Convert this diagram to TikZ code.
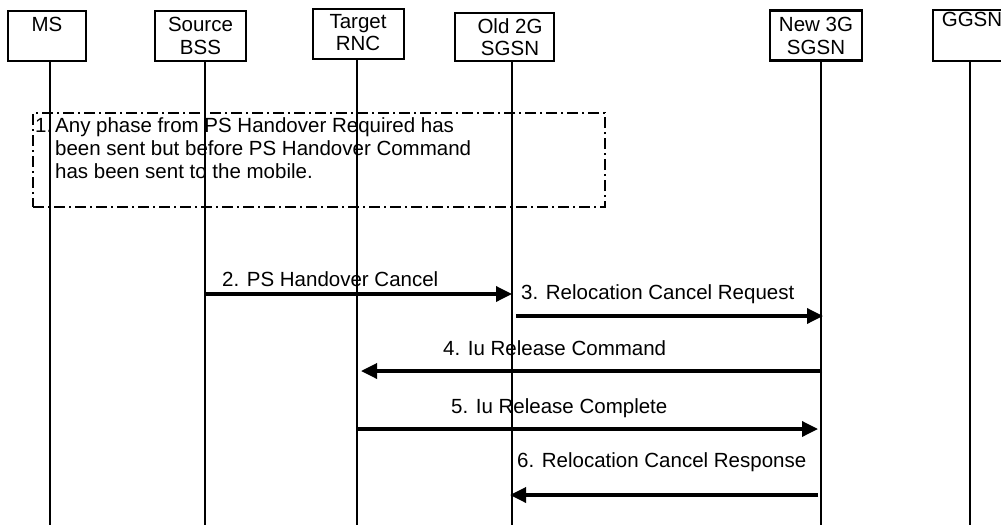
\documentclass[tikz,border=0pt]{standalone}
\usepackage{fontspec}
\setmainfont{Liberation Sans}
\usetikzlibrary{arrows.meta}
\begin{document}
\begin{tikzpicture}[x=1pt,y=-1pt,
  ent/.style={draw, line width=2.3pt, inner sep=0pt},
  lbl/.style={inner sep=0pt, align=center, font=\fontsize{20.5}{22.5}\selectfont, anchor=north},
  msg/.style={inner sep=0pt, anchor=base west, font=\fontsize{20.5}{23}\selectfont},
  life/.style={line width=2.2pt},
  arr/.style={line width=3.4pt, -{Triangle[length=16pt,width=15pt]}},
  notebox/.style={draw, line width=2.3pt, dash pattern=on 11pt off 4pt on 2pt off 4pt, inner sep=0pt}
]
\clip (0,0) rectangle (1001,525);
% entity boxes
\node[ent, minimum width=78pt, minimum height=50pt] (ms) at (47,36) {};
\node[ent, minimum width=91pt, minimum height=50pt] (bss) at (200.5,36) {};
\node[ent, minimum width=91pt, minimum height=50pt] (rnc) at (358.5,34) {};
\node[ent, minimum width=99pt, minimum height=48pt] (old) at (504.5,37.3) {};
\node[ent, minimum width=92pt, minimum height=50pt] (new) at (816,35.5) {};
\node[ent, minimum width=75pt, minimum height=51pt] (ggsn) at (970.5,35.5) {};
% entity labels
\node[lbl] (msl) at (47,17) {MS};
\node[lbl] (bssl) at (200.5,17) {Source\\BSS};
\node[lbl] (rncl) at (358,14) {Target\\RNC};
\node[lbl] (oldl) at (510,18) {Old 2G\\SGSN};
\node[lbl] (newl) at (816,17) {New 3G\\SGSN};
\node[lbl] (ggsnl) at (972,12) {GGSN};
% lifeline bottoms
\coordinate (msb) at (50,525);
\coordinate (bssb) at (205,525);
\coordinate (rncb) at (357,525);
\coordinate (oldb) at (512,525);
\coordinate (newb) at (821,525);
\coordinate (ggsnb) at (970,525);
% note
\node[notebox, minimum width=572pt, minimum height=94pt] (note) at (319,160) {};
\node[msg] (n1) at (35,132) {1.};
\node[inner sep=0pt, anchor=north west, align=left, font=\fontsize{20.5}{23}\selectfont] (ntext) at (55,117)
  {Any phase from PS Handover Required has\\been sent but before PS Handover Command\\has been sent to the mobile.};
% lifelines
\draw[life] (msb |- ms.south) -- (msb);
\draw[life] (bssb |- bss.south) -- (bssb);
\draw[life] (rncb |- rnc.south) -- (rncb);
\draw[life] (oldb |- old.south) -- (oldb);
\draw[life] (newb |- new.south) -- (newb);
\draw[life] (ggsnb |- ggsn.south) -- (ggsnb);
% message end points
\coordinate (m2a) at (205,294); \coordinate (m2b) at (512,294);
\coordinate (m3a) at (516,316); \coordinate (m3b) at (823,316);
\coordinate (m4a) at (822,371); \coordinate (m4b) at (361,371);
\coordinate (m5a) at (357,429); \coordinate (m5b) at (818,429);
\coordinate (m6a) at (818,495); \coordinate (m6b) at (510,495);
% messages
\draw[arr] (m2a) -- (m2b);
\node[msg] (l2) at (222,286) {2. PS Handover Cancel};
\draw[arr] (m3a) -- (m3b);
\node[msg] (l3) at (521,299) {3. Relocation Cancel Request};
\draw[arr] (m4a) -- (m4b);
\node[msg] (l4) at (443,355) {4. Iu Release Command};
\draw[arr] (m5a) -- (m5b);
\node[msg] (l5) at (451,413) {5. Iu Release Complete};
\draw[arr] (m6a) -- (m6b);
\node[msg] (l6) at (517,467) {6. Relocation Cancel Response};
\end{tikzpicture}
\end{document}
